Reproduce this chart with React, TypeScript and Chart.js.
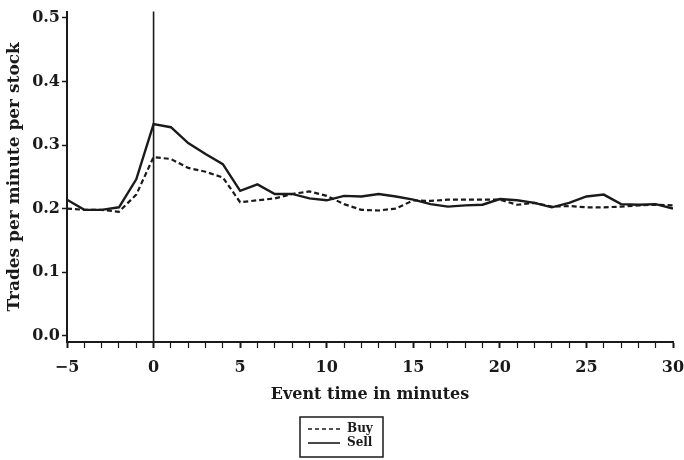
import React, { useEffect, useRef } from "react";
import { Chart, registerables } from "chart.js";

Chart.register(...registerables);

const minutes: number[] = [
  -5, -4, -3, -2, -1, 0, 1, 2, 3, 4, 5, 6, 7, 8, 9, 10, 11, 12, 13, 14, 15, 16, 17, 18, 19, 20,
  21, 22, 23, 24, 25, 26, 27, 28, 29, 30,
];
const sellValues: number[] = [
  0.214, 0.198, 0.198, 0.202, 0.246, 0.333, 0.328, 0.303, 0.286, 0.27, 0.228, 0.238, 0.223, 0.223,
  0.216, 0.213, 0.22, 0.219, 0.223, 0.219, 0.214, 0.207, 0.203, 0.205, 0.206, 0.215, 0.213, 0.209,
  0.202, 0.209, 0.219, 0.222, 0.207, 0.206, 0.207, 0.2,
];
const buyValues: number[] = [
  0.2, 0.198, 0.198, 0.195, 0.222, 0.281, 0.278, 0.264, 0.258, 0.249, 0.21, 0.213, 0.216, 0.223,
  0.227, 0.22, 0.207, 0.198, 0.197, 0.2, 0.213, 0.212, 0.214, 0.214, 0.214, 0.214, 0.206, 0.209,
  0.203, 0.204, 0.202, 0.202, 0.203, 0.205, 0.206, 0.205,
];
const yTickValues: number[] = [0, 0.1, 0.2, 0.3, 0.4, 0.5];
const xLabelEvery = 5;
const seriesNames: string[] = ["Buy", "Sell"];
const xTitle = "Event time in minutes";
const yTitle = "Trades per minute per stock";

const FONT = "'DejaVu Serif', 'Liberation Serif', serif";
const INK = "#1a1a1a";

const overlayPlugin = {
  id: "overlay",
  afterDraw(chart: any) {
    const { ctx, chartArea, scales } = chart;
    const x0 = scales.x.getPixelForValue(0);
    ctx.save();
    // vertical event line
    ctx.strokeStyle = INK;
    ctx.lineWidth = 1.6;
    ctx.beginPath();
    ctx.moveTo(x0, chartArea.top);
    ctx.lineTo(x0, chartArea.bottom);
    ctx.stroke();

    // legend box
    const bx = 300, by = 417, bw = 83, bh = 40;
    ctx.lineWidth = 1.5;
    ctx.strokeRect(bx, by, bw, bh);
    ctx.font = `bold 12px ${FONT}`;
    ctx.textBaseline = "middle";
    ctx.fillStyle = INK;
    const rows = [
      { y: by + 12, dash: [4, 3], name: seriesNames[0] },
      { y: by + 26, dash: [], name: seriesNames[1] },
    ];
    rows.forEach((r) => {
      ctx.setLineDash(r.dash);
      ctx.lineWidth = 1.6;
      ctx.beginPath();
      ctx.moveTo(bx + 8, r.y);
      ctx.lineTo(bx + 40, r.y);
      ctx.stroke();
      ctx.setLineDash([]);
      ctx.fillText(r.name, bx + 47, r.y);
    });
    ctx.restore();
  },
};

export default function App() {
  const ref = useRef<HTMLCanvasElement | null>(null);
  useEffect(() => {
    document.body.style.margin = "0";
    if (!ref.current) return;
    const chart = new Chart(ref.current, {
      type: "line",
      data: {
        datasets: [
          {
            label: seriesNames[0],
            data: minutes.map((m, i) => ({ x: m, y: buyValues[i] })),
            borderColor: INK,
            borderWidth: 2.2,
            borderDash: [5, 3],
            pointRadius: 0,
            tension: 0,
            fill: false,
          },
          {
            label: seriesNames[1],
            data: minutes.map((m, i) => ({ x: m, y: sellValues[i] })),
            borderColor: INK,
            borderWidth: 2.4,
            pointRadius: 0,
            tension: 0,
            fill: false,
          },
        ],
      },
      options: {
        responsive: false,
        animation: false,
        layout: { padding: { top: 9, right: 11, left: 0, bottom: 0 } },
        plugins: { legend: { display: false }, tooltip: { enabled: false } },
        scales: {
          x: {
            type: "linear",
            min: -5,
            max: 30,
            afterFit: (s: any) => {
              s.height = 118;
              s.paddingLeft = 0;
              s.paddingRight = 0;
            },
            afterBuildTicks: (s: any) => {
              s.ticks = minutes.map((v) => ({ value: v }));
            },
            grid: {
              drawOnChartArea: false,
              drawTicks: true,
              tickLength: 6,
              tickColor: INK,
              tickWidth: (c: any) => (c.tick && c.tick.value % xLabelEvery === 0 ? 2 : 1.2),
            },
            border: { display: true, color: INK, width: 2 },
            ticks: {
              autoSkip: false,
              maxRotation: 0,
              padding: 10,
              color: INK,
              font: { family: FONT, size: 16, weight: "bold" },
              callback: (v: any) =>
                Number(v) % xLabelEvery === 0 ? (Number(v) < 0 ? "\u2212" + Math.abs(Number(v)) : String(v)) : "",
            },
            title: {
              display: true,
              text: xTitle,
              color: INK,
              font: { family: FONT, size: 16, weight: "bold" },
              padding: { top: 0, bottom: 56 },
            },
          },
          y: {
            type: "linear",
            min: -0.01,
            max: 0.51,
            afterFit: (s: any) => {
              s.width = 67;
            },
            afterBuildTicks: (s: any) => {
              s.ticks = yTickValues.map((v) => ({ value: v }));
            },
            grid: {
              drawOnChartArea: false,
              drawTicks: true,
              tickLength: 5,
              tickColor: INK,
              tickWidth: 1.5,
            },
            border: { display: true, color: INK, width: 2 },
            ticks: {
              padding: 2,
              color: INK,
              font: { family: FONT, size: 16, weight: "bold" },
              callback: (v: any) => Number(v).toFixed(1),
            },
            title: {
              display: true,
              text: yTitle,
              color: INK,
              font: { family: FONT, size: 17, weight: "bold" },
              padding: { top: 4, bottom: 0 },
            },
          },
        },
      },
      plugins: [overlayPlugin],
    });
    return () => chart.destroy();
  }, []);
  return (
    <div style={{ width: 684, height: 460, background: "#fff" }}>
      <canvas ref={ref} width={684} height={460} />
    </div>
  );
}
